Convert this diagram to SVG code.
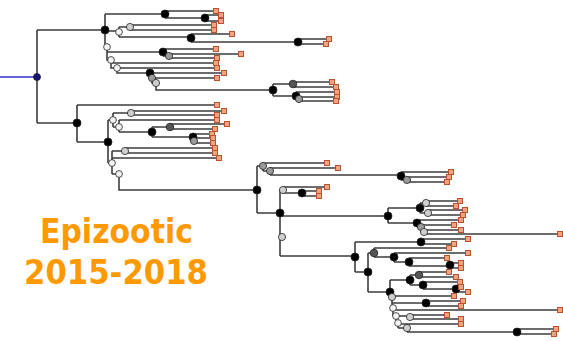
<svg xmlns="http://www.w3.org/2000/svg" width="563" height="341" viewBox="0 0 563 341">
<style>
.e{fill:none;stroke:#3c3c3c;stroke-width:1.6}
.lf{fill:#f2a27e;stroke:#b8532e;stroke-width:1}
circle{stroke:#222;stroke-width:0.8}
.k{fill:#000;r:4px}.d{fill:#555;r:3.8px}.g{fill:#9a9a9a;r:3.6px}.l{fill:#cfcfcf;r:3.6px}.w{fill:#f4f4f4;r:3.4px}
.t{font-family:"DejaVu Sans",Verdana,sans-serif;font-weight:bold;font-size:34px;fill:#ff9900}
</style>
<rect width="563" height="341" fill="#fff"/>
<g id="connectors">
<path d="M0 77H37" fill="none" stroke="#3333cc" stroke-width="1.5"/>
<path class="e" d="M37 30V123M37 30H105M37 123H77
M105 14V47M105 14H165M165 11V18M165 11H216M165 18H205M205 15V21M205 15H221M205 21H221
M105 31H119M119 27V37M119 27H130M130 25V30M130 25H214M130 30H214
M119 37H191M191 34V42M191 34H232M191 42H298M298 39V44M298 39H329M298 44H326
M107 47V60H111M107 52H163M163 49V56M163 49H216M163 56H169M169 54V58M169 54H241M169 58H217
M111 60V68H117M111 63H216M117 68H217M117 68V73H150M150 73H224M150 73V78H152M152 78H217M152 78V83H156M156 83V90H273
M273 84V96M273 84H293M293 82V87M293 82H332M293 87H336M273 96H296M296 92V99M296 92H337M296 99H299M299 97V101M299 97H337M299 101H336
M77 105V142M77 105H217M77 142H108
M108 120V163M108 120H113M113 113V127M113 113H131M131 111V115M131 111H224M131 115H217
M113 127H119M119 120V132M119 120H217M119 132H152M152 127V137M152 127H170M170 124V129M170 124H227M170 129H215
M152 137H193M193 134V141M193 134H212M193 141H194M194 138V143M194 138H213M194 143H213
M108 163H112M112 151V174M112 151H125M125 148V153M125 148H215M125 153H215M112 158H219M112 174H119M119 174V190H257
M257 166V213M257 166H263M263 163V171M263 163H327M263 171H270M270 168V175M270 168H338M270 175H401
M401 172V180M401 172H451M401 180H407M407 177V182M407 177H449M407 182H447
M257 213H280M280 190V256M280 190H283M283 187V193M283 187H327M283 193H302M302 191V196M302 191H319M302 196H319
M280 216H388M388 208V223M388 208H420M420 203V213M420 203H426M426 201V206M426 201H460M426 206H456M420 213H428M428 210V215M428 210H465M428 215H463
M388 223H417M417 220V227M417 220H461M417 227H421M421 225V232M421 225H454M421 232H424M424 230V234M424 230H461M424 234H560
M280 256H355M355 242V272M355 242H421M421 239V244M421 239H468M421 244H454
M355 272H368M368 253V292M368 253H374M374 248V257M374 248H449M374 257H394M394 253V262M394 253H468M394 262H409M409 258V266M409 258H447M409 266H450M450 263V268M450 263H461M450 268H461
M368 292H390M390 280V297M390 280H410M410 275V285M410 275H419M419 272V277M419 272H449M419 277H456M410 285H423M423 282V289M423 282H460M423 289H456M456 287V292M456 287H461M456 292H468
M392 296V308M392 296H454M392 303H426M426 301V306M426 301H463M426 306H461
M393 308V316M393 310H560M396 316V323M396 316H410M410 315V319M410 315H447M410 319H461
M398 323V328M398 324H461M398 328H407M407 328V332M407 332H517M517 329V334M517 329H556M517 334H554"/>
</g>
<g id="nodes">
<g id="root"><circle cx="37" cy="77" r="3.5" fill="#12127a"/></g>
<g id="n1"><circle class="k" cx="105" cy="30" r="3.5"/></g>
<g id="n2"><circle class="k" cx="165" cy="14" r="3.5"/></g>
<g id="n3"><circle class="k" cx="205" cy="18" r="3"/></g>
<g id="n4"><circle class="w" cx="119" cy="32" r="3"/></g>
<g id="n5"><circle class="l" cx="130" cy="27" r="3"/></g>
<g id="n6"><circle class="k" cx="191" cy="38" r="3.5"/></g>
<g id="n7"><circle class="k" cx="298" cy="42" r="3.5"/></g>
<g id="n8"><circle class="w" cx="107" cy="47" r="3"/></g>
<g id="n9"><circle class="k" cx="163" cy="52" r="3.5"/></g>
<g id="n10"><circle class="g" cx="169" cy="56" r="3.2"/></g>
<g id="n11"><circle class="w" cx="111" cy="60" r="3"/></g>
<g id="n12"><circle class="w" cx="117" cy="68" r="3"/></g>
<g id="n13"><circle class="k" cx="150" cy="73" r="3.5"/></g>
<g id="n14"><circle class="g" cx="152" cy="78" r="3"/></g>
<g id="n15"><circle class="l" cx="156" cy="83" r="3"/></g>
<g id="n16"><circle class="k" cx="273" cy="90" r="3.5"/></g>
<g id="n17"><circle class="d" cx="293" cy="84" r="3.5"/></g>
<g id="n18"><circle class="k" cx="296" cy="96" r="3.5"/></g>
<g id="n19"><circle class="g" cx="299" cy="99" r="3"/></g>
<g id="n20"><circle class="k" cx="77" cy="123" r="3.5"/></g>
<g id="n21"><circle class="k" cx="108" cy="142" r="3.5"/></g>
<g id="n22"><circle class="w" cx="113" cy="120" r="3"/></g>
<g id="n23"><circle class="l" cx="131" cy="113" r="3"/></g>
<g id="n24"><circle class="w" cx="119" cy="127" r="3"/></g>
<g id="n25"><circle class="k" cx="152" cy="132" r="3.5"/></g>
<g id="n26"><circle class="d" cx="170" cy="127" r="3.5"/></g>
<g id="n27"><circle class="k" cx="193" cy="137" r="3.5"/></g>
<g id="n28"><circle class="g" cx="194" cy="141" r="3"/></g>
<g id="n29"><circle class="w" cx="112" cy="163" r="3"/></g>
<g id="n30"><circle class="l" cx="125" cy="151" r="3"/></g>
<g id="n31"><circle class="w" cx="119" cy="174" r="3"/></g>
<g id="n32"><circle class="k" cx="257" cy="190" r="3.5"/></g>
<g id="n33"><circle class="g" cx="263" cy="166" r="3.2"/></g>
<g id="n34"><circle class="g" cx="270" cy="171" r="3.2"/></g>
<g id="n35"><circle class="k" cx="401" cy="176" r="3.5"/></g>
<g id="n36"><circle class="g" cx="407" cy="180" r="3.2"/></g>
<g id="n37"><circle class="k" cx="280" cy="213" r="3.5"/></g>
<g id="n38"><circle class="l" cx="283" cy="190" r="3.2"/></g>
<g id="n39"><circle class="k" cx="302" cy="193" r="3.5"/></g>
<g id="n40"><circle class="l" cx="282" cy="237" r="3.2"/></g>
<g id="n41"><circle class="k" cx="388" cy="216" r="3.5"/></g>
<g id="n42"><circle class="k" cx="420" cy="208" r="3.5"/></g>
<g id="n43"><circle class="l" cx="426" cy="203" r="3.2"/></g>
<g id="n44"><circle class="l" cx="428" cy="213" r="3.2"/></g>
<g id="n45"><circle class="k" cx="417" cy="223" r="3.5"/></g>
<g id="n46"><circle class="g" cx="421" cy="227" r="3.2"/></g>
<g id="n47"><circle class="l" cx="424" cy="232" r="3.2"/></g>
<g id="n48"><circle class="k" cx="355" cy="257" r="3.5"/></g>
<g id="n49"><circle class="k" cx="421" cy="242" r="3.5"/></g>
<g id="n50"><circle class="k" cx="368" cy="272" r="3.5"/></g>
<g id="n51"><circle class="d" cx="374" cy="253" r="3.5"/></g>
<g id="n52"><circle class="k" cx="394" cy="257" r="3.5"/></g>
<g id="n53"><circle class="k" cx="409" cy="262" r="3.5"/></g>
<g id="n54"><circle class="k" cx="450" cy="265" r="3.5"/></g>
<g id="n55"><circle class="k" cx="390" cy="292" r="3.5"/></g>
<g id="n56"><circle class="k" cx="410" cy="280" r="3.5"/></g>
<g id="n57"><circle class="d" cx="419" cy="275" r="3.5"/></g>
<g id="n58"><circle class="k" cx="423" cy="285" r="3.5"/></g>
<g id="n59"><circle class="k" cx="456" cy="289" r="3.5"/></g>
<g id="n60"><circle class="l" cx="392" cy="297" r="3.2"/></g>
<g id="n61"><circle class="k" cx="426" cy="303" r="3.5"/></g>
<g id="n62"><circle class="w" cx="393" cy="308" r="3"/></g>
<g id="n63"><circle class="w" cx="396" cy="316" r="3"/></g>
<g id="n64"><circle class="l" cx="410" cy="317" r="3.2"/></g>
<g id="n65"><circle class="w" cx="398" cy="323" r="3"/></g>
<g id="n66"><circle class="l" cx="407" cy="328" r="3.2"/></g>
<g id="n67"><circle class="k" cx="517" cy="332" r="3.5"/></g>
</g>
<g id="leaves">
<g id="t1"><rect class="lf" x="213.5" y="8.5" width="5" height="5"/></g>
<g id="t2"><rect class="lf" x="218.5" y="12.5" width="5" height="5"/></g>
<g id="t3"><rect class="lf" x="218.5" y="18.5" width="5" height="5"/></g>
<g id="t4"><rect class="lf" x="211.5" y="22.5" width="5" height="5"/></g>
<g id="t5"><rect class="lf" x="211.5" y="27.5" width="5" height="5"/></g>
<g id="t6"><rect class="lf" x="229.5" y="31.5" width="5" height="5"/></g>
<g id="t7"><rect class="lf" x="326.5" y="36.5" width="5" height="5"/></g>
<g id="t8"><rect class="lf" x="323.5" y="41.5" width="5" height="5"/></g>
<g id="t9"><rect class="lf" x="213.5" y="46.5" width="5" height="5"/></g>
<g id="t10"><rect class="lf" x="238.5" y="51.5" width="5" height="5"/></g>
<g id="t11"><rect class="lf" x="214.5" y="55.5" width="5" height="5"/></g>
<g id="t12"><rect class="lf" x="213.5" y="60.5" width="5" height="5"/></g>
<g id="t13"><rect class="lf" x="214.5" y="65.5" width="5" height="5"/></g>
<g id="t14"><rect class="lf" x="221.5" y="70.5" width="5" height="5"/></g>
<g id="t15"><rect class="lf" x="214.5" y="75.5" width="5" height="5"/></g>
<g id="t16"><rect class="lf" x="329.5" y="79.5" width="5" height="5"/></g>
<g id="t17"><rect class="lf" x="333.5" y="84.5" width="5" height="5"/></g>
<g id="t18"><rect class="lf" x="334.5" y="89.5" width="5" height="5"/></g>
<g id="t19"><rect class="lf" x="334.5" y="94.5" width="5" height="5"/></g>
<g id="t20"><rect class="lf" x="333.5" y="98.5" width="5" height="5"/></g>
<g id="t21"><rect class="lf" x="214.5" y="102.5" width="5" height="5"/></g>
<g id="t22"><rect class="lf" x="221.5" y="108.5" width="5" height="5"/></g>
<g id="t23"><rect class="lf" x="214.5" y="112.5" width="5" height="5"/></g>
<g id="t24"><rect class="lf" x="214.5" y="117.5" width="5" height="5"/></g>
<g id="t25"><rect class="lf" x="224.5" y="121.5" width="5" height="5"/></g>
<g id="t26"><rect class="lf" x="212.5" y="126.5" width="5" height="5"/></g>
<g id="t27"><rect class="lf" x="209.5" y="131.5" width="5" height="5"/></g>
<g id="t28"><rect class="lf" x="210.5" y="135.5" width="5" height="5"/></g>
<g id="t29"><rect class="lf" x="210.5" y="140.5" width="5" height="5"/></g>
<g id="t30"><rect class="lf" x="212.5" y="145.5" width="5" height="5"/></g>
<g id="t31"><rect class="lf" x="212.5" y="150.5" width="5" height="5"/></g>
<g id="t32"><rect class="lf" x="216.5" y="155.5" width="5" height="5"/></g>
<g id="t33"><rect class="lf" x="324.5" y="160.5" width="5" height="5"/></g>
<g id="t34"><rect class="lf" x="335.5" y="165.5" width="5" height="5"/></g>
<g id="t35"><rect class="lf" x="448.5" y="169.5" width="5" height="5"/></g>
<g id="t36"><rect class="lf" x="446.5" y="174.5" width="5" height="5"/></g>
<g id="t37"><rect class="lf" x="444.5" y="179.5" width="5" height="5"/></g>
<g id="t38"><rect class="lf" x="324.5" y="184.5" width="5" height="5"/></g>
<g id="t39"><rect class="lf" x="316.5" y="188.5" width="5" height="5"/></g>
<g id="t40"><rect class="lf" x="316.5" y="193.5" width="5" height="5"/></g>
<g id="t41"><rect class="lf" x="457.5" y="198.5" width="5" height="5"/></g>
<g id="t42"><rect class="lf" x="453.5" y="203.5" width="5" height="5"/></g>
<g id="t43"><rect class="lf" x="462.5" y="207.5" width="5" height="5"/></g>
<g id="t44"><rect class="lf" x="460.5" y="212.5" width="5" height="5"/></g>
<g id="t45"><rect class="lf" x="458.5" y="217.5" width="5" height="5"/></g>
<g id="t46"><rect class="lf" x="451.5" y="222.5" width="5" height="5"/></g>
<g id="t47"><rect class="lf" x="458.5" y="227.5" width="5" height="5"/></g>
<g id="t48"><rect class="lf" x="557.5" y="231.5" width="5" height="5"/></g>
<g id="t49"><rect class="lf" x="465.5" y="236.5" width="5" height="5"/></g>
<g id="t50"><rect class="lf" x="451.5" y="241.5" width="5" height="5"/></g>
<g id="t51"><rect class="lf" x="446.5" y="245.5" width="5" height="5"/></g>
<g id="t52"><rect class="lf" x="465.5" y="250.5" width="5" height="5"/></g>
<g id="t53"><rect class="lf" x="444.5" y="255.5" width="5" height="5"/></g>
<g id="t54"><rect class="lf" x="458.5" y="260.5" width="5" height="5"/></g>
<g id="t55"><rect class="lf" x="458.5" y="265.5" width="5" height="5"/></g>
<g id="t56"><rect class="lf" x="446.5" y="269.5" width="5" height="5"/></g>
<g id="t57"><rect class="lf" x="453.5" y="274.5" width="5" height="5"/></g>
<g id="t58"><rect class="lf" x="457.5" y="279.5" width="5" height="5"/></g>
<g id="t59"><rect class="lf" x="458.5" y="284.5" width="5" height="5"/></g>
<g id="t60"><rect class="lf" x="465.5" y="289.5" width="5" height="5"/></g>
<g id="t61"><rect class="lf" x="451.5" y="293.5" width="5" height="5"/></g>
<g id="t62"><rect class="lf" x="460.5" y="298.5" width="5" height="5"/></g>
<g id="t63"><rect class="lf" x="458.5" y="303.5" width="5" height="5"/></g>
<g id="t64"><rect class="lf" x="557.5" y="307.5" width="5" height="5"/></g>
<g id="t65"><rect class="lf" x="444.5" y="312.5" width="5" height="5"/></g>
<g id="t66"><rect class="lf" x="458.5" y="316.5" width="5" height="5"/></g>
<g id="t67"><rect class="lf" x="458.5" y="321.5" width="5" height="5"/></g>
<g id="t68"><rect class="lf" x="553.5" y="326.5" width="5" height="5"/></g>
<g id="t69"><rect class="lf" x="551.5" y="331.5" width="5" height="5"/></g>
</g>
<g id="label">
<text class="t" x="40" y="243" textLength="153" lengthAdjust="spacingAndGlyphs">Epizootic</text>
<text class="t" x="24" y="284" textLength="184" lengthAdjust="spacingAndGlyphs">2015-2018</text>
</g>
</svg>
